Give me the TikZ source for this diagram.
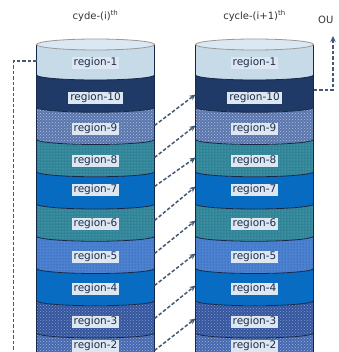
\documentclass[tikz,border=0pt]{standalone}
\usepackage{fontspec}
\setmainfont{DejaVu Sans}
\usetikzlibrary{arrows.meta,patterns}
\definecolor{ctop}{HTML}{DCE8F1}
\definecolor{cA}{HTML}{C6DAE8}
\definecolor{cB}{HTML}{1F3A66}
\definecolor{cC}{HTML}{5A76AE}
\definecolor{cD}{HTML}{2F8498}
\definecolor{cE}{HTML}{076BC2}
\definecolor{cF}{HTML}{2F8498}
\definecolor{cG}{HTML}{4C82D2}
\definecolor{cH}{HTML}{086CC3}
\definecolor{cI}{HTML}{34569F}
\definecolor{cJ}{HTML}{4568B0}
\definecolor{edge}{HTML}{16284A}
\definecolor{labfill}{HTML}{DDE7F2}
\definecolor{labtext}{HTML}{1C2D4A}
\definecolor{arr}{HTML}{425A76}
\begin{document}
\begin{tikzpicture}[x=1pt,y=1pt,
  lab/.style={fill=labfill,text=labtext,font=\fontsize{10.5}{12}\selectfont,inner xsep=2pt,inner ysep=1pt,text height=7.4pt,text depth=2pt},
  ttl/.style={text=black!80,font=\fontsize{10}{12}\selectfont},
  bline/.style={draw=edge,line width=0.8pt},
  conn/.style={draw=arr,line width=1.5pt,dash pattern=on 3.5pt off 2pt,-{Stealth[length=6pt,width=5.5pt]}},
  plainconn/.style={draw=arr,line width=1.5pt,dash pattern=on 3.5pt off 2pt},
  bB/.style={fill=cB},
  bC/.style={fill=cC,postaction={pattern=crosshatch dots,pattern color=white!55!cC}},
  bD/.style={fill=cD,postaction={pattern=dots,pattern color=white!45!cD}},
  bE/.style={fill=cE},
  bF/.style={fill=cF,postaction={pattern=dots,pattern color=white!45!cF}},
  bG/.style={fill=cG,postaction={pattern=dots,pattern color=black!40!cG}},
  bH/.style={fill=cH},
  bI/.style={fill=cI,postaction={pattern=crosshatch dots,pattern color=white!40!cI}},
  bJ/.style={fill=cJ,postaction={pattern=crosshatch dots,pattern color=white!50!cJ}}]
\useasboundingbox (0,0) rectangle (338,-352);
\clip (0,0) rectangle (338,-352);
\fill[white] (0,0) rectangle (338,-352);
% cylinders
\foreach \cx in {95.5,254.5} {
  \path[fill=cA] (\cx-59,-44.5) -- (\cx-59,-75) arc[start angle=180,end angle=360,x radius=59pt,y radius=5pt] -- (\cx+59,-44.5) -- cycle;
  \foreach \yt/\yb/\sty in {75/107.25/bB,107.25/139.5/bC,139.5/171.75/bD,171.75/204/bE,204/236.25/bF,236.25/268.5/bG,268.5/300.75/bH,300.75/333/bI,333/365.25/bJ} {
    \path[\sty] (\cx-59,-\yt) arc[start angle=180,end angle=360,x radius=59pt,y radius=5pt] -- (\cx+59,-\yb) arc[start angle=0,end angle=-180,x radius=59pt,y radius=5pt] -- cycle;
  }
  \foreach \yb in {75,107.25,139.5,171.75,204,236.25,268.5,300.75,333} {
    \draw[bline] (\cx-59,-\yb) arc[start angle=180,end angle=360,x radius=59pt,y radius=5pt];
  }
  \draw[edge,line width=0.6pt] (\cx-59,-44.5) -- (\cx-59,-370) (\cx+59,-44.5) -- (\cx+59,-370);
  \draw[fill=ctop,draw=gray!80,line width=0.8pt] (\cx,-44.5) ellipse[x radius=59pt,y radius=5.5pt];
}
% labels
\foreach \n/\yy in {1/63,10/98,9/129,8/161,7/190,6/224,5/257,4/289,3/322,2/346} {
  \node[lab] (L\n) at (95.5,-\yy) {region-\n};
  \node[lab] (R\n) at (254.5,-\yy) {region-\n};
}
\foreach \n/\yy in {10/98,9/129,8/161,7/190,6/224,5/257,4/289,3/322,2/354} {
  \coordinate (Ls\n) at (154.5,-\yy+3.5);
  \coordinate (Re\n) at (195.5,-\yy+3.5);
}
% titles
\node[ttl] (t1) at (95.5,-16) {cyde-(i)\textsuperscript{th}};
\node[ttl] (t2) at (254.5,-16) {cycle-(i+1)\textsuperscript{th}};
\node[ttl,anchor=west,inner sep=0pt] (out) at (318,-20) {OU};
% diagonal arrows
\foreach \a/\b in {9/10,8/9,7/8,6/7,5/6,4/5,3/4,2/3} {
  \draw[conn] (Ls\a) -- (Re\b);
}
% left feedback
\coordinate (lstart) at (36.5,-61);
\coordinate (lcorner) at (13.5,-61);
\coordinate (lend) at (13.5,-360);
\draw[plainconn] (lstart) -- (lcorner) -- (lend);
% right output
\coordinate (rstart) at (313.5,-90);
\coordinate (rcorner) at (333,-90);
\coordinate (rend) at (333,-36);
\draw[conn] (rstart) -- (rcorner) -- (rend);
\end{tikzpicture}
\end{document}
